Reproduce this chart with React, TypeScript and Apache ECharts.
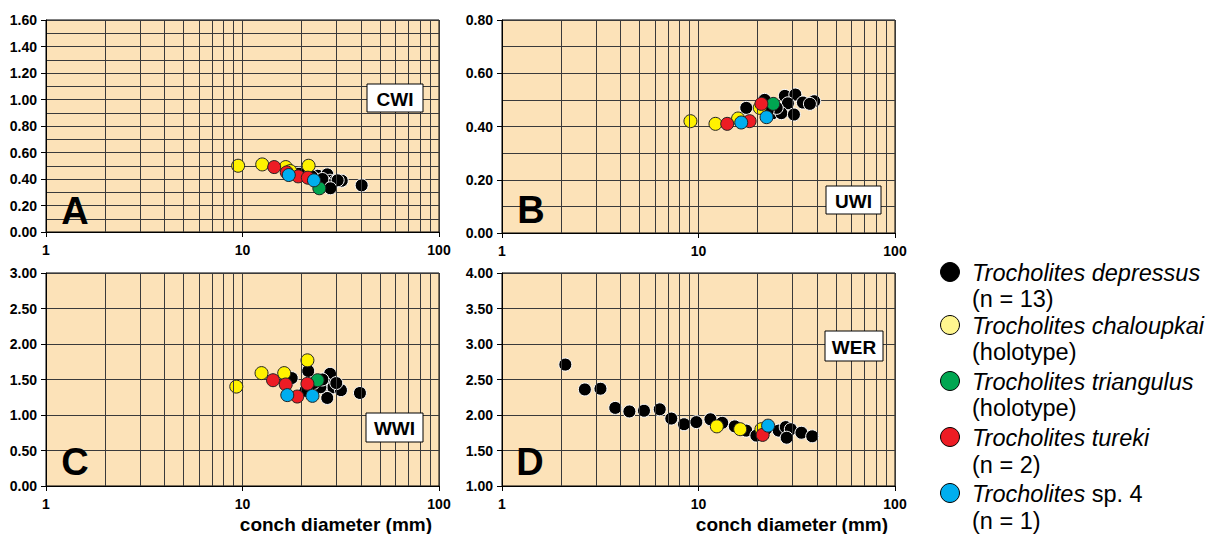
import React, { useEffect, useRef } from "react";
import * as echarts from "echarts";

// ---- tick values ----
const minorX = [2, 3, 4, 5, 6, 7, 8, 9, 20, 30, 40, 50, 60, 70, 80, 90];

// ---- Panel A: CWI ----
const cwiDepressus = [[19.4, 0.44], [24.1, 0.425], [26.5, 0.41], [27.0, 0.435], [27.9, 0.387], [29.4, 0.38], [32.0, 0.387], [27.4, 0.355], [40.4, 0.352], [22.5, 0.42], [25.5, 0.40], [30.5, 0.39], [28.0, 0.33]];
const cwiChaloupkai = [[9.5, 0.50], [12.6, 0.51], [16.6, 0.49], [21.7, 0.50], [17.5, 0.46]];
const cwiTriangulus = [[24.6, 0.33]];
const cwiTureki = [[14.5, 0.49], [16.8, 0.45], [19.2, 0.42], [21.5, 0.41]];
const cwiSp4 = [[17.2, 0.43], [23.1, 0.39]];

// ---- Panel B: UWI ----
const uwiDepressus = [[17.5, 0.47], [21.7, 0.50], [23.9, 0.45], [27.5, 0.515], [31.1, 0.52], [28.5, 0.487], [26.4, 0.45], [30.6, 0.445], [34.0, 0.49], [38.8, 0.495], [36.9, 0.485], [25.0, 0.47], [22.5, 0.46]];
const uwiChaloupkai = [[9.1, 0.42], [12.2, 0.41], [15.9, 0.43], [20.5, 0.47]];
const uwiTriangulus = [[24.0, 0.485]];
const uwiTureki = [[14.0, 0.41], [18.2, 0.42], [20.9, 0.485]];
const uwiSp4 = [[16.5, 0.415], [22.2, 0.435]];

// ---- Panel C: WWI ----
const wwiDepressus = [[17.8, 1.52], [21.6, 1.62], [27.9, 1.58], [26.8, 1.43], [29.0, 1.39], [31.7, 1.35], [27.0, 1.24], [39.6, 1.31], [24.9, 1.39], [20.9, 1.34], [25.5, 1.50], [23.0, 1.45], [30.0, 1.45]];
const wwiChaloupkai = [[9.3, 1.40], [12.5, 1.59], [16.3, 1.59], [21.4, 1.77]];
const wwiTriangulus = [[24.1, 1.49]];
const wwiTureki = [[14.3, 1.49], [16.6, 1.43], [19.0, 1.26], [21.4, 1.44]];
const wwiSp4 = [[16.9, 1.28], [22.7, 1.27]];

// ---- Panel D: WER ----
const werDepressus = [[2.10, 2.71], [2.64, 2.36], [3.17, 2.37], [3.77, 2.10], [4.45, 2.05], [5.28, 2.06], [6.35, 2.08], [7.27, 1.95], [8.44, 1.87], [9.75, 1.90], [11.5, 1.94], [13.2, 1.89], [15.3, 1.84], [17.5, 1.78], [19.7, 1.71], [25.6, 1.78], [27.8, 1.83], [29.5, 1.80], [28.1, 1.68], [33.4, 1.75], [37.9, 1.70], [22.0, 1.80]];
const werChaloupkai = [[12.4, 1.84], [16.3, 1.80], [20.9, 1.80]];
const werTriangulus: number[][] = [];
const werTureki = [[21.2, 1.72]];
const werSp4 = [[22.6, 1.85]];

const xTitle = "conch diameter (mm)";

const FONT = "'Liberation Sans', Arial, Helvetica, sans-serif";
const BG = "#FCE2B8";
const GRIDC = "#3a3a3a";
const COLORS = { depressus: "#000000", chaloupkai: "#FFF200", triangulus: "#00A651", tureki: "#ED1C24", sp4: "#00AEEF" };

const panels = [
  { letter: "A", tag: "CWI", grid: { left: 46, top: 20, width: 393, height: 212 }, y: { min: 0, max: 1.6, interval: 0.2, minor: true }, xName: false, data: [cwiDepressus, cwiChaloupkai, cwiTriangulus, cwiTureki, cwiSp4], letterPos: [75, 211], box: [367, 84, 56, 28] },
  { letter: "B", tag: "UWI", grid: { left: 502, top: 20, width: 393, height: 213 }, y: { min: 0, max: 0.8, interval: 0.2, minor: true }, xName: false, data: [uwiDepressus, uwiChaloupkai, uwiTriangulus, uwiTureki, uwiSp4], letterPos: [531, 210], box: [826, 186, 55, 28] },
  { letter: "C", tag: "WWI", grid: { left: 46, top: 273, width: 393, height: 213 }, y: { min: 0, max: 3, interval: 0.5, minor: false }, xName: true, data: [wwiDepressus, wwiChaloupkai, wwiTriangulus, wwiTureki, wwiSp4], letterPos: [75, 462], box: [366, 413, 57, 29] },
  { letter: "D", tag: "WER", grid: { left: 502, top: 273, width: 393, height: 213 }, y: { min: 1, max: 4, interval: 0.5, minor: false }, xName: true, data: [werDepressus, werChaloupkai, werTriangulus, werTureki, werSp4], letterPos: [530, 462], box: [825, 331, 58, 30] },
];

const speciesKeys = ["depressus", "chaloupkai", "triangulus", "tureki", "sp4"];

const legendRows = [
  { y: 273, parts: [{ t: "Trocholites depressus", i: true }], dot: COLORS.depressus },
  { y: 299, parts: [{ t: "(n = 13)", i: false }] },
  { y: 326, parts: [{ t: "Trocholites chaloupkai", i: true }], dot: "#FFF68F" },
  { y: 352, parts: [{ t: "(holotype)", i: false }] },
  { y: 382, parts: [{ t: "Trocholites triangulus", i: true }], dot: COLORS.triangulus },
  { y: 408, parts: [{ t: "(holotype)", i: false }] },
  { y: 438, parts: [{ t: "Trocholites tureki", i: true }], dot: COLORS.tureki },
  { y: 465, parts: [{ t: "(n = 2)", i: false }] },
  { y: 494, parts: [{ t: "Trocholites", i: true }, { t: " sp. 4", i: false }], dot: COLORS.sp4 },
  { y: 521, parts: [{ t: "(n = 1)", i: false }] },
];

export default function App() {
  const ref = useRef<HTMLDivElement>(null);
  useEffect(() => {
    if (!ref.current) return;
    const chart = echarts.init(ref.current, null, { renderer: "svg" });

    const grids = panels.map((p) => ({ ...p.grid, show: true, backgroundColor: BG, borderColor: "#000", borderWidth: 1 }));
    const xAxes = panels.map((p, i) => ({
      type: "log",
      logBase: 10,
      min: 1,
      max: 100,
      gridIndex: i,
      axisLine: { show: true, lineStyle: { color: "#000", width: 1 } },
      axisTick: { show: true, length: 5, lineStyle: { color: "#000" } },
      axisLabel: { fontFamily: FONT, fontWeight: "bold", fontSize: 14, color: "#000", margin: 11 },
      splitLine: { show: true, lineStyle: { color: GRIDC, width: 1 } },
    }));
    const yAxes = panels.map((p, i) => ({
      type: "value",
      gridIndex: i,
      min: p.y.min,
      max: p.y.max,
      interval: p.y.interval,
      axisLine: { show: true, lineStyle: { color: "#000", width: 1 } },
      axisTick: { show: true, length: 5, lineStyle: { color: "#000" } },
      axisLabel: { fontFamily: FONT, fontWeight: "bold", fontSize: 14, color: "#000", margin: 9, formatter: (v: number) => v.toFixed(2) },
      splitLine: { show: true, lineStyle: { color: GRIDC, width: 1 } },
      minorTick: { show: false, splitNumber: 2 },
      minorSplitLine: { show: p.y.minor, lineStyle: { color: GRIDC, width: 1 } },
    }));

    const series: any[] = [];
    panels.forEach((p, i) => {
      series.push({
        type: "scatter",
        xAxisIndex: i,
        yAxisIndex: i,
        data: [],
        z: 1,
        silent: true,
        markLine: {
          silent: true,
          symbol: ["none", "none"],
          label: { show: false },
          lineStyle: { color: GRIDC, width: 1, type: "solid" },
          emphasis: { disabled: true },
          data: minorX.map((v) => ({ xAxis: v })),
        },
      });
      p.data.forEach((d, k) => {
        const key = speciesKeys[k] as keyof typeof COLORS;
        series.push({
          type: "scatter",
          name: key,
          xAxisIndex: i,
          yAxisIndex: i,
          z: 2 + k,
          symbol: "circle",
          symbolSize: 13,
          data: d,
          itemStyle: {
            color: COLORS[key],
            borderColor: key === "depressus" ? "#ffffff" : "#222222",
            borderWidth: 1,
            opacity: 1,
          },
        });
      });
    });

    const graphic: any[] = [];
    panels.forEach((p) => {
      graphic.push({
        type: "text",
        x: p.letterPos[0],
        y: p.letterPos[1],
        z: 100,
        style: { text: p.letter, fontFamily: FONT, fontWeight: "bold", fontSize: 38, fill: "#000", align: "center", verticalAlign: "middle" },
      });
      const [bx, by, bw, bh] = p.box;
      graphic.push({
        type: "rect",
        z: 100,
        shape: { x: bx, y: by, width: bw, height: bh },
        style: { fill: "#fff", stroke: "#000", lineWidth: 1 },
      });
      graphic.push({
        type: "text",
        z: 101,
        x: bx + bw / 2,
        y: by + bh / 2 + 1,
        style: { text: p.tag, fontFamily: FONT, fontWeight: "bold", fontSize: 19, fill: "#000", align: "center", verticalAlign: "middle" },
      });
      if (p.xName) {
        graphic.push({
          type: "text",
          z: 100,
          x: p.grid.left + p.grid.width - 7,
          y: 524,
          style: { text: xTitle, fontFamily: FONT, fontWeight: "bold", fontSize: 19, fill: "#000", align: "right", verticalAlign: "middle" },
        });
      }
    });
    legendRows.forEach((r) => {
      if (r.dot) {
        graphic.push({
          type: "circle",
          z: 100,
          shape: { cx: 950, cy: r.y - 1, r: 9.5 },
          style: { fill: r.dot, stroke: "#000", lineWidth: 1 },
        });
      }
      graphic.push({
        type: "text",
        z: 100,
        x: 972,
        y: r.y,
        style: {
          text: r.parts.map((pt) => `{${pt.i ? "i" : "n"}|${pt.t}}`).join(""),
          verticalAlign: "middle",
          rich: {
            i: { fontFamily: FONT, fontStyle: "italic", fontSize: 23.5, fill: "#000" },
            n: { fontFamily: FONT, fontStyle: "normal", fontSize: 23.5, fill: "#000" },
          },
        },
      });
    });

    chart.setOption({
      animation: false,
      backgroundColor: "#ffffff",
      grid: grids,
      xAxis: xAxes,
      yAxis: yAxes,
      series,
      graphic,
    });
    return () => chart.dispose();
  }, []);
  return <div ref={ref} style={{ position: "absolute", left: 0, top: 0, width: 1217, height: 534 }} />;
}
